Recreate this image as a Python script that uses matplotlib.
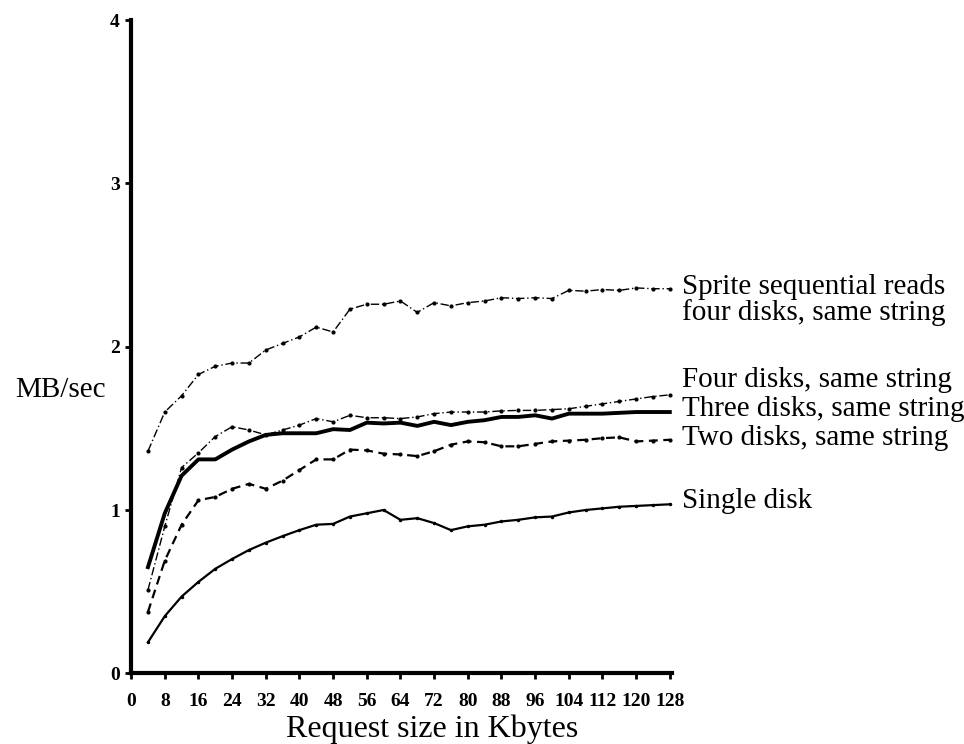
import numpy as np
import matplotlib.pyplot as plt

plt.rcParams['font.family'] = ['Liberation Serif', 'DejaVu Serif']

# Request sizes (Kbytes)
req_kb = np.arange(4, 129, 4)

# Throughput in MB/sec
sprite = [1.36, 1.60, 1.70, 1.83, 1.88, 1.90, 1.90, 1.98, 2.02, 2.06, 2.12, 2.09,
          2.23, 2.26, 2.26, 2.28, 2.21, 2.27, 2.25, 2.27, 2.28, 2.30, 2.295, 2.30,
          2.295, 2.345, 2.34, 2.35, 2.345, 2.36, 2.355, 2.355]
four = [0.51, 0.90, 1.26, 1.35, 1.45, 1.51, 1.49, 1.46, 1.49, 1.52, 1.56, 1.54,
        1.58, 1.565, 1.565, 1.56, 1.57, 1.59, 1.60, 1.60, 1.60, 1.607, 1.61, 1.61,
        1.615, 1.62, 1.635, 1.65, 1.665, 1.68, 1.695, 1.705]
three = [0.65, 0.98, 1.21, 1.31, 1.31, 1.37, 1.42, 1.46, 1.47, 1.47, 1.47, 1.495,
         1.49, 1.535, 1.53, 1.535, 1.515, 1.54, 1.52, 1.54, 1.55, 1.57, 1.57, 1.58,
         1.56, 1.59, 1.59, 1.59, 1.595, 1.60, 1.60, 1.60]
two = [0.376, 0.69, 0.91, 1.06, 1.08, 1.13, 1.16, 1.13, 1.18, 1.245, 1.31, 1.31,
       1.37, 1.365, 1.345, 1.34, 1.33, 1.36, 1.40, 1.42, 1.415, 1.39, 1.39, 1.405,
       1.42, 1.425, 1.43, 1.44, 1.445, 1.42, 1.425, 1.43]
single = [0.19, 0.35, 0.47, 0.56, 0.64, 0.70, 0.755, 0.80, 0.84, 0.877, 0.91, 0.915,
          0.96, 0.98, 1.00, 0.94, 0.95, 0.92, 0.877, 0.90, 0.91, 0.93, 0.94, 0.955,
          0.96, 0.985, 1.00, 1.01, 1.02, 1.025, 1.03, 1.035]

# curve labels and the MB/sec value of each label's baseline
labels = ["Sprite sequential reads", "four disks, same string",
          "Four disks, same string", "Three disks, same string",
          "Two disks, same string", "Single disk"]
label_base = [2.32, 2.165, 1.755, 1.575, 1.40, 1.01]

x_ticks = np.arange(0, 129, 8)
y_ticks = [0, 1, 2, 3, 4]

fig = plt.figure(figsize=(9.64, 7.44), dpi=100)
ax = fig.add_axes([0.136, 0.095, 0.561, 0.878])

ax.plot(req_kb, sprite, color='k', lw=1.0, ls=(0, (6, 2, 1, 2)), marker='.', ms=4)
ax.plot(req_kb, four, color='k', lw=1.0, ls=(0, (6, 2, 1, 2)), marker='.', ms=4)
ax.plot(req_kb, three, color='k', lw=2.8, ls='-')
ax.plot(req_kb, two, color='k', lw=1.6, ls=(0, (4, 2.5)), marker='.', ms=4)
ax.plot(req_kb, single, color='k', lw=1.6, ls='-', marker='.', ms=3)

for txt, yv in zip(labels, label_base):
    ax.text(130.8, yv, txt, fontsize=21, va='baseline', ha='left', clip_on=False)

ax.set_xlim(0, 128.5)
ax.set_ylim(0, 4)
ax.set_xticks(x_ticks)
ax.set_yticks(y_ticks)
ax.tick_params(axis='both', direction='out', length=4, width=2, labelsize=14)
ax.tick_params(axis='x', pad=10)
ax.tick_params(axis='y', pad=4)
for lab in ax.get_xticklabels() + ax.get_yticklabels():
    lab.set_fontweight('bold')

ax.spines['top'].set_visible(False)
ax.spines['right'].set_visible(False)
ax.spines['left'].set_linewidth(3)
ax.spines['bottom'].set_linewidth(3)

fig.text(432 / 964, 1 - 737 / 744, "Request size in Kbytes", fontsize=23,
         ha='center', va='baseline')
fig.text(15 / 964, 1 - 397 / 744, "MB/sec", fontsize=21, ha='left', va='baseline')

fig.savefig("out.png", dpi=100)
